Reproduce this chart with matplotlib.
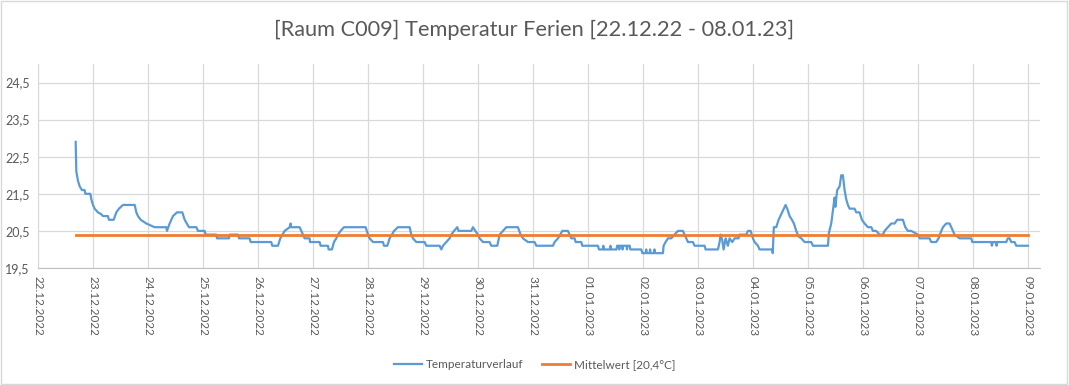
import matplotlib
matplotlib.use("Agg")
import matplotlib.pyplot as plt
from matplotlib.patches import Rectangle
from matplotlib.ticker import FixedLocator, FuncFormatter

plt.rcParams['font.family'] = ['Lato', 'DejaVu Sans']

# Tage seit 22.12.2022 00:00 und gemessene Temperatur [°C]
tage = [0.685, 0.690, 0.697, 0.727, 0.758, 0.80, 0.848, 0.861, 0.952, 0.97,
        1.0, 1.03, 1.09, 1.15, 1.18, 1.27, 1.29, 1.376, 1.424, 1.473,
        1.545, 1.758, 1.788, 1.818, 1.867, 1.97, 2.12, 2.333, 2.345, 2.394,
        2.455, 2.527, 2.624, 2.667, 2.745, 2.879, 2.909, 3.03, 3.048, 3.242,
        3.255, 3.473, 3.485, 3.636, 3.655, 3.848, 3.867, 4.242, 4.26, 4.364,
        4.406, 4.485, 4.576, 4.594, 4.60, 4.758, 4.818, 4.848, 4.939, 4.945,
        5.121, 5.139, 5.273, 5.285, 5.345, 5.382, 5.424, 5.455, 5.503, 5.564,
        5.958, 6.0, 6.03, 6.091, 6.273, 6.291, 6.352, 6.394, 6.436, 6.473,
        6.545, 6.758, 6.788, 6.818, 6.879, 7.03, 7.061, 7.303, 7.333, 7.364,
        7.424, 7.485, 7.515, 7.564, 7.624, 7.648, 7.879, 7.909, 7.952, 8.0,
        8.03, 8.091, 8.212, 8.242, 8.352, 8.394, 8.455, 8.515, 8.727, 8.776,
        8.818, 8.909, 9.03, 9.061, 9.364, 9.394, 9.455, 9.497, 9.533, 9.636,
        9.667, 9.697, 9.758, 9.776, 9.879, 9.897, 10.182, 10.2, 10.27, 10.28,
        10.29, 10.40, 10.41, 10.42, 10.52, 10.53, 10.56, 10.57, 10.58, 10.62,
        10.63, 10.64, 10.70, 10.71, 10.72, 10.76, 10.77, 10.97, 10.99, 11.05,
        11.06, 11.07, 11.12, 11.13, 11.14, 11.20, 11.21, 11.22, 11.364, 11.376,
        11.412, 11.455, 11.515, 11.576, 11.636, 11.727, 11.758, 11.788, 11.818, 11.909,
        11.939, 12.121, 12.139, 12.364, 12.394, 12.412, 12.442, 12.467, 12.503, 12.545,
        12.576, 12.624, 12.667, 12.739, 12.758, 12.879, 12.909, 12.958, 13.0, 13.03,
        13.091, 13.12, 13.352, 13.36, 13.38, 13.424, 13.467, 13.515, 13.564, 13.594,
        13.624, 13.667, 13.709, 13.745, 13.788, 13.83, 13.879, 13.939, 14.061, 14.091,
        14.364, 14.382, 14.424, 14.455, 14.485, 14.50, 14.52, 14.533, 14.576, 14.606,
        14.636, 14.667, 14.697, 14.727, 14.758, 14.848, 14.879, 14.939, 14.982, 15.03,
        15.091, 15.152, 15.182, 15.242, 15.303, 15.364, 15.394, 15.455, 15.515, 15.576,
        15.624, 15.727, 15.77, 15.818, 15.879, 16.0, 16.03, 16.212, 16.242, 16.333,
        16.376, 16.412, 16.455, 16.515, 16.576, 16.606, 16.667, 16.758, 16.97, 16.988,
        17.333, 17.345, 17.364, 17.424, 17.43, 17.442, 17.606, 17.636, 17.667, 17.697,
        17.758, 17.788, 18.0]
temp = [22.9, 22.5, 22.1, 21.85, 21.7, 21.6, 21.6, 21.5, 21.5, 21.35,
        21.2, 21.1, 21.0, 20.95, 20.9, 20.9, 20.8, 20.8, 21.0, 21.1,
        21.2, 21.2, 21.0, 20.9, 20.8, 20.7, 20.6, 20.6, 20.5, 20.7,
        20.9, 21.0, 21.0, 20.8, 20.6, 20.6, 20.5, 20.5, 20.4, 20.4,
        20.3, 20.3, 20.4, 20.4, 20.3, 20.3, 20.2, 20.2, 20.1, 20.1,
        20.3, 20.5, 20.6, 20.7, 20.6, 20.6, 20.4, 20.3, 20.3, 20.2,
        20.2, 20.1, 20.1, 20.0, 20.0, 20.2, 20.3, 20.4, 20.5, 20.6,
        20.6, 20.4, 20.3, 20.2, 20.2, 20.1, 20.1, 20.3, 20.4, 20.5,
        20.6, 20.6, 20.4, 20.3, 20.2, 20.2, 20.1, 20.1, 20.0, 20.1,
        20.2, 20.3, 20.4, 20.5, 20.6, 20.5, 20.5, 20.6, 20.5, 20.4,
        20.3, 20.2, 20.2, 20.1, 20.1, 20.4, 20.5, 20.6, 20.6, 20.4,
        20.3, 20.2, 20.2, 20.1, 20.1, 20.2, 20.3, 20.4, 20.5, 20.5,
        20.4, 20.3, 20.3, 20.2, 20.2, 20.1, 20.1, 20.0, 20.0, 20.1,
        20.0, 20.0, 20.1, 20.0, 20.0, 20.1, 20.1, 20.0, 20.1, 20.1,
        20.0, 20.1, 20.1, 20.0, 20.1, 20.1, 20.0, 20.0, 19.9, 19.9,
        20.0, 19.9, 19.9, 20.0, 19.9, 19.9, 20.0, 19.9, 19.9, 20.1,
        20.2, 20.3, 20.3, 20.4, 20.5, 20.5, 20.4, 20.3, 20.2, 20.2,
        20.1, 20.1, 20.0, 20.0, 20.2, 20.4, 20.25, 20.0, 20.3, 20.1,
        20.3, 20.2, 20.3, 20.3, 20.4, 20.4, 20.5, 20.5, 20.3, 20.2,
        20.1, 20.0, 20.0, 19.9, 20.6, 20.6, 20.8, 20.95, 21.1, 21.2,
        21.1, 20.9, 20.8, 20.7, 20.5, 20.35, 20.3, 20.2, 20.2, 20.1,
        20.1, 20.45, 20.7, 21.05, 21.4, 21.15, 21.45, 21.6, 21.7, 22.0,
        22.0, 21.6, 21.35, 21.2, 21.1, 21.1, 21.0, 21.0, 20.8, 20.7,
        20.6, 20.6, 20.5, 20.5, 20.4, 20.4, 20.5, 20.6, 20.7, 20.7,
        20.8, 20.8, 20.6, 20.5, 20.5, 20.4, 20.3, 20.3, 20.2, 20.2,
        20.3, 20.45, 20.6, 20.7, 20.7, 20.6, 20.4, 20.3, 20.3, 20.2,
        20.2, 20.1, 20.2, 20.2, 20.1, 20.2, 20.2, 20.3, 20.3, 20.2,
        20.2, 20.1, 20.1]

mittelwert = 20.4
mittel_von, mittel_bis = 0.685, 18.0

datum_labels = ['22.12.2022', '23.12.2022', '24.12.2022', '25.12.2022', '26.12.2022',
                '27.12.2022', '28.12.2022', '29.12.2022', '30.12.2022', '31.12.2022',
                '01.01.2023', '02.01.2023', '03.01.2023', '04.01.2023', '05.01.2023',
                '06.01.2023', '07.01.2023', '08.01.2023', '09.01.2023']
y_ticks = [19.5, 20.5, 21.5, 22.5, 23.5, 24.5]

grau_text = '#595959'
grau_grid = '#D9D9D9'

fig = plt.figure(figsize=(10.69, 3.85), dpi=100)
ax = fig.add_axes([38 / 1069, 1 - 268 / 385, (1040 - 38) / 1069, (268 - 64) / 385])

ax.plot(tage, temp, color='#5B9BD5', lw=1.6, label='Temperaturverlauf', zorder=3)
ax.plot([mittel_von, mittel_bis], [mittelwert, mittelwert], color='#ED7D31', lw=2.0,
        label='Mittelwert [20,4°C]', zorder=4)

ax.set_xlim(0, 18.22)
ax.set_ylim(19.5, 25.0)
ax.xaxis.set_major_locator(FixedLocator(range(len(datum_labels))))
ax.set_xticklabels(datum_labels, rotation=-90, fontsize=8.5, color=grau_text)
ax.yaxis.set_major_locator(FixedLocator(y_ticks))
ax.yaxis.set_major_formatter(FuncFormatter(lambda v, p: f'{v:.1f}'.replace('.', ',')))
ax.tick_params(axis='y', labelsize=9, colors=grau_text, length=0, pad=6)
ax.tick_params(axis='x', length=0, pad=6)
ax.grid(True, color=grau_grid, lw=0.9)
ax.set_axisbelow(True)
for s in ['top', 'right']:
    ax.spines[s].set_visible(False)
ax.spines['left'].set_color(grau_grid)
ax.spines['bottom'].set_color('#BFBFBF')

fig.text(0.5, 0.923, '[Raum C009] Temperatur Ferien [22.12.22 - 08.01.23]',
         ha='center', va='center', fontsize=15.7, color=grau_text)

leg = fig.legend(loc='center', bbox_to_anchor=(0.5, 1 - 365 / 385), ncol=2, frameon=False,
                 fontsize=8.5, handlelength=2.4, handletextpad=0.3, columnspacing=1.6)
for t in leg.get_texts():
    t.set_color(grau_text)

fig.patches.append(Rectangle((0.001, 0.002), 0.997, 0.995, transform=fig.transFigure,
                             fill=False, edgecolor=grau_grid, lw=1))

fig.savefig('out.png', dpi=100)
